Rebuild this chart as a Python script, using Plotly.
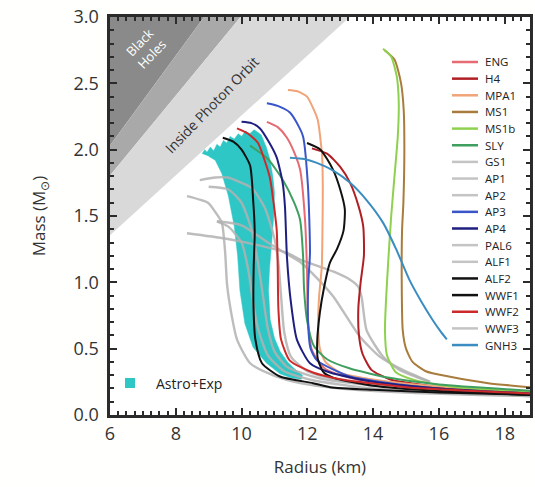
import plotly.graph_objects as go

# ---------------- data ----------------
names = ["ENG", "H4", "MPA1", "MS1", "MS1b", "SLY", "GS1", "AP1", "AP2", "AP3",
         "AP4", "PAL6", "ALF1", "ALF2", "WWF1", "WWF2", "WWF3", "GNH3"]
colors = ["#e66b73", "#b01f24", "#f0a478", "#a87c3c", "#8fd14f", "#3f9f5f",
          "gray", "gray", "gray", "#3a55c8", "#1f1f80", "gray", "gray",
          "#111111", "#111111", "#cc2a2a", "gray", "#3b8dc1"]

R_ENG = [10.77, 11.1, 11.38, 11.65, 11.78, 11.93, 11.99, 12.02, 12.14, 12.53, 13.3, 14.5, 16.5, 19.0]
M_ENG = [2.21, 2.17, 2.09, 1.95, 1.85, 1.47, 1.09, 0.72, 0.49, 0.35, 0.28, 0.23, 0.19, 0.155]

R_H4 = [12.14, 12.6, 13.0, 13.3, 13.55, 13.7, 13.72, 13.62, 13.55, 13.57, 13.68, 13.95, 14.5, 16.0, 19.0]
M_H4 = [2.01, 1.97, 1.87, 1.75, 1.58, 1.42, 1.2, 1.0, 0.8, 0.6, 0.46, 0.34, 0.27, 0.21, 0.17]

R_MPA1 = [11.41, 11.7, 11.99, 12.2, 12.32, 12.45, 12.47, 12.46, 12.44, 12.36, 12.33, 12.38, 12.55, 13.0, 14.5, 16.5, 19.0]
M_MPA1 = [2.45, 2.44, 2.4, 2.3, 2.22, 1.95, 1.7, 1.4, 1.12, 0.9, 0.7, 0.5, 0.4, 0.32, 0.25, 0.205, 0.17]

R_MS1 = [14.35, 14.65, 14.85, 14.93, 14.95, 14.92, 14.88, 14.87, 14.9, 15.0, 15.2, 15.6, 16.3, 17.5, 19.0]
M_MS1 = [2.75, 2.68, 2.5, 2.3, 2.0, 1.6, 1.39, 1.0, 0.64, 0.5, 0.4, 0.33, 0.29, 0.24, 0.205]

R_MS1b = [14.3, 14.55, 14.72, 14.78, 14.75, 14.65, 14.55, 14.47, 14.4, 14.36, 14.42, 14.7, 15.3, 16.5, 19.0]
M_MS1b = [2.76, 2.7, 2.55, 2.35, 2.1, 1.8, 1.5, 1.2, 0.9, 0.64, 0.45, 0.32, 0.26, 0.21, 0.175]

R_SLY = [10.26, 10.8, 11.26, 11.6, 11.78, 11.87, 11.9, 12.0, 12.2, 12.6, 13.3, 14.5, 16.0, 19.0]
M_SLY = [2.03, 1.93, 1.77, 1.6, 1.47, 1.2, 0.95, 0.7, 0.52, 0.42, 0.35, 0.28, 0.23, 0.18]

R_GS1 = [8.34, 8.98, 9.2, 9.4, 9.5, 9.56, 9.7, 9.86, 10.26, 10.95, 11.78, 13.0, 15.0, 19.0]
M_GS1 = [1.65, 1.6, 1.53, 1.45, 1.23, 0.98, 0.75, 0.57, 0.39, 0.3, 0.24, 0.2, 0.17, 0.14]

R_AP1 = [8.73, 9.2, 9.58, 10.0, 10.32, 10.71, 11.0, 11.12, 11.2, 11.3, 11.5, 12.0, 13.0, 15.0, 19.0]
M_AP1 = [1.77, 1.79, 1.79, 1.75, 1.71, 1.56, 1.33, 1.15, 0.9, 0.62, 0.44, 0.33, 0.26, 0.2, 0.15]

R_AP2 = [9.25, 9.6, 10.0, 10.2, 10.35, 10.5, 10.8, 11.3, 12.2, 14.0, 16.0, 19.0]
M_AP2 = [1.46, 1.42, 1.3, 1.1, 0.85, 0.65, 0.45, 0.33, 0.26, 0.2, 0.17, 0.14]

R_AP3 = [10.77, 11.1, 11.47, 11.75, 11.87, 12.02, 12.08, 12.03, 12.02, 12.1, 12.3, 13.3, 14.5, 16.3, 19.0]
M_AP3 = [2.35, 2.33, 2.28, 2.17, 2.1, 1.72, 1.22, 1.0, 0.7, 0.5, 0.41, 0.29, 0.24, 0.19, 0.15]

R_AP4 = [10.0, 10.3, 10.56, 10.85, 11.07, 11.25, 11.32, 11.38, 11.5, 11.68, 12.08, 12.69, 14.0, 16.0, 19.0]
M_AP4 = [2.21, 2.2, 2.16, 2.05, 1.94, 1.75, 1.57, 1.19, 0.85, 0.57, 0.39, 0.32, 0.25, 0.2, 0.16]

R_PAL6 = [8.34, 9.5, 10.5, 11.4, 11.8, 12.8, 13.3, 13.54, 13.65, 13.8, 14.3, 14.8, 15.73]
M_PAL6 = [1.37, 1.33, 1.28, 1.22, 1.17, 1.08, 1.02, 0.97, 0.89, 0.64, 0.44, 0.34, 0.25]

R_ALF1 = [9.25, 10.0, 10.8, 11.4, 11.8, 12.3, 12.8, 13.6, 14.2, 14.9, 15.73]
M_ALF1 = [1.46, 1.43, 1.3, 1.21, 1.15, 1.03, 0.89, 0.59, 0.44, 0.34, 0.25]

R_ALF2 = [11.99, 12.4, 12.78, 13.0, 13.14, 13.1, 12.9, 12.69, 12.5, 12.38, 12.3, 12.32, 12.5, 12.8, 14.0, 16.0, 19.0]
M_ALF2 = [2.05, 2.0, 1.85, 1.7, 1.55, 1.39, 1.25, 1.15, 0.95, 0.77, 0.55, 0.42, 0.32, 0.28, 0.22, 0.18, 0.15]

R_WWF1 = [9.43, 9.75, 10.0, 10.26, 10.35, 10.4, 10.37, 10.36, 10.42, 10.62, 11.17, 12.17, 12.69, 14.0, 16.0, 19.0]
M_WWF1 = [2.09, 2.06, 2.0, 1.88, 1.63, 1.38, 1.13, 0.85, 0.57, 0.39, 0.29, 0.24, 0.21, 0.19, 0.17, 0.15]

R_WWF2 = [9.86, 10.2, 10.5, 10.7, 10.86, 11.0, 11.07, 11.1, 11.12, 11.2, 11.47, 12.17, 13.0, 15.0, 19.0]
M_WWF2 = [2.16, 2.12, 2.05, 1.92, 1.79, 1.55, 1.39, 1.1, 0.8, 0.57, 0.41, 0.32, 0.27, 0.21, 0.16]

R_WWF3 = [9.0, 9.6, 10.0, 10.3, 10.5, 10.65, 10.8, 11.0, 11.4, 12.5, 14.5, 17.0, 19.0]
M_WWF3 = [1.72, 1.7, 1.6, 1.4, 1.15, 0.9, 0.65, 0.48, 0.36, 0.27, 0.21, 0.17, 0.15]

R_GNH3 = [11.47, 11.9, 12.29, 12.8, 13.3, 13.8, 14.3, 14.7, 15.1, 15.5, 15.8, 16.05, 16.24]
M_GNH3 = [1.94, 1.93, 1.9, 1.84, 1.75, 1.62, 1.45, 1.25, 1.02, 0.84, 0.72, 0.63, 0.57]

curves_R = [R_ENG, R_H4, R_MPA1, R_MS1, R_MS1b, R_SLY, R_GS1, R_AP1, R_AP2, R_AP3,
            R_AP4, R_PAL6, R_ALF1, R_ALF2, R_WWF1, R_WWF2, R_WWF3, R_GNH3]
curves_M = [M_ENG, M_H4, M_MPA1, M_MS1, M_MS1b, M_SLY, M_GS1, M_AP1, M_AP2, M_AP3,
            M_AP4, M_PAL6, M_ALF1, M_ALF2, M_WWF1, M_WWF2, M_WWF3, M_GNH3]

band_R = [8.8, 8.88, 8.95, 9.05, 9.15, 9.25, 9.35, 9.45, 9.55, 9.65, 9.78, 9.9, 10.0, 10.12,
          10.25, 10.38, 10.5, 10.6, 10.75, 10.86, 10.95, 11.0, 10.98, 10.92, 10.85, 10.82,
          10.87, 11.0, 11.17, 11.4, 11.6, 11.85, 11.82, 11.5, 11.17, 10.76, 10.35, 10.1,
          9.95, 9.88, 9.78, 9.6, 9.4, 9.2, 9.0]
band_M = [1.97, 2.0, 1.98, 2.02, 1.99, 2.04, 2.02, 2.07, 2.05, 2.1, 2.08, 2.12, 2.1, 2.14,
          2.12, 2.15, 2.13, 2.11, 2.02, 1.93, 1.8, 1.68, 1.5, 1.32, 1.1, 0.94,
          0.72, 0.58, 0.48, 0.4, 0.35, 0.3, 0.27, 0.28, 0.31, 0.39, 0.51, 0.69,
          0.94, 1.2, 1.42, 1.65, 1.82, 1.92, 1.95]

GM_C2 = 1.4766
k_bh = 2.0 * GM_C2
k_buch = 2.25 * GM_C2
k_ph = 3.0 * GM_C2

x_ticks = [6, 8, 10, 12, 14, 16, 18]

# ---------------- figure ----------------
X0, X1, Y0, Y1 = 6.0, 18.77, 0.0, 3.0
FONT = "Open Sans"
FW, FH = 535, 487
FRAME = "#2b2b2b"

fig = go.Figure()

def region(k_lo, k_hi, color):
    if k_hi is None:
        xs = [X0, X0, k_lo * Y1, X0]
        ys = [X0 / k_lo, Y1, Y1, X0 / k_lo]
    else:
        xs = [X0, X0, k_lo * Y1, k_hi * Y1, X0]
        ys = [X0 / k_hi, X0 / k_lo, Y1, Y1, X0 / k_hi]
    fig.add_trace(go.Scatter(x=xs, y=ys, fill="toself", fillcolor=color, mode="lines",
                             line=dict(width=0, color=color), hoverinfo="skip",
                             showlegend=False))

region(k_bh, None, "#8a8a8a")
region(k_bh, k_buch, "#a9a9a9")
region(k_buch, k_ph, "#d9d9d9")

fig.add_trace(go.Scatter(x=band_R, y=band_M, fill="toself", fillcolor="#2fc6c6",
                         mode="lines", line=dict(width=0.5, color="#2fc6c6"),
                         name="Astro+Exp", showlegend=False))

order = [i for i, c in enumerate(colors) if c == "gray"] + \
        [i for i, c in enumerate(colors) if c != "gray"]
for i in order:
    c = colors[i]
    if c == "gray":
        line = dict(color="rgba(178,178,178,0.85)", width=2.4, shape="spline", smoothing=0.6)
    else:
        line = dict(color=c, width=2.0, shape="spline", smoothing=0.6)
    fig.add_trace(go.Scatter(x=curves_R[i], y=curves_M[i], mode="lines", line=line,
                             name=names[i], showlegend=False))

PL, PT, PW, PH = 110.0, 17.0, 420.0, 398.0
def px(xp):
    return (xp - PL) / PW
def py(yp):
    return (PT + PH - yp) / PH

shapes = []
annots = []
for i, n in enumerate(names):
    ypx = 62 + i * 16.65
    col = "#c4c4c4" if colors[i] == "gray" else colors[i]
    shapes.append(dict(type="line", xref="paper", yref="paper",
                       x0=px(452), x1=px(478), y0=py(ypx), y1=py(ypx),
                       line=dict(color=col, width=2.5)))
    annots.append(dict(xref="paper", yref="paper", x=px(483), y=py(ypx),
                       text=n, showarrow=False, xanchor="left", yanchor="middle",
                       font=dict(family=FONT, size=11.5, color="#222")))

shapes.append(dict(type="rect", xref="paper", yref="paper",
                   x0=px(125), x1=px(135), y0=py(388), y1=py(378),
                   fillcolor="#2fc6c6", line=dict(width=0)))
annots.append(dict(xref="paper", yref="paper", x=px(154), y=py(383),
                   text="Astro+Exp", showarrow=False, xanchor="left", yanchor="middle",
                   font=dict(family=FONT, size=14, color="#222")))

annots.append(dict(x=7.08, y=2.76, text="Black<br>Holes", showarrow=False, textangle=-46,
                   font=dict(family=FONT, size=13, color="white")))
annots.append(dict(x=9.1, y=2.34, text="Inside Photon Orbit", showarrow=False, textangle=-46,
                   font=dict(family=FONT, size=14, color="#333")))

axis_common = dict(showline=True, linecolor=FRAME, linewidth=3, mirror="allticks",
                   ticks="inside", ticklen=7, tickwidth=2, tickcolor=FRAME,
                   showgrid=False, zeroline=False, automargin=False,
                   ticklabeloverflow="allow",
                   tickfont=dict(family=FONT, size=18, color="#333"))

fig.update_layout(
    width=FW, height=FH,
    margin=dict(l=PL, r=FW - (PL + PW), t=PT, b=FH - (PT + PH)),
    plot_bgcolor="white", paper_bgcolor="#fffffe",
    showlegend=False,
    shapes=shapes, annotations=annots,
    xaxis=dict(range=[X0, X1], tickvals=x_ticks,
               minor=dict(dtick=0.25, ticks="inside", ticklen=4, tickcolor=FRAME, tickwidth=1.5),
               title=dict(text="Radius (km)", standoff=18,
                          font=dict(family=FONT, size=17, color="#333")),
               **axis_common),
    yaxis=dict(range=[Y0, Y1], dtick=0.5, tickformat=".1f", ticksuffix=" ",
               minor=dict(dtick=0.1, ticks="inside", ticklen=4, tickcolor=FRAME, tickwidth=1.5),
               title=dict(text="Mass (M<sub>⊙</sub>)", standoff=24,
                          font=dict(family=FONT, size=17, color="#333")),
               **axis_common),
)

fig.write_html("out.html", config={"displayModeBar": False},
               post_script="document.body.style.margin='0';document.body.style.padding='0';")
